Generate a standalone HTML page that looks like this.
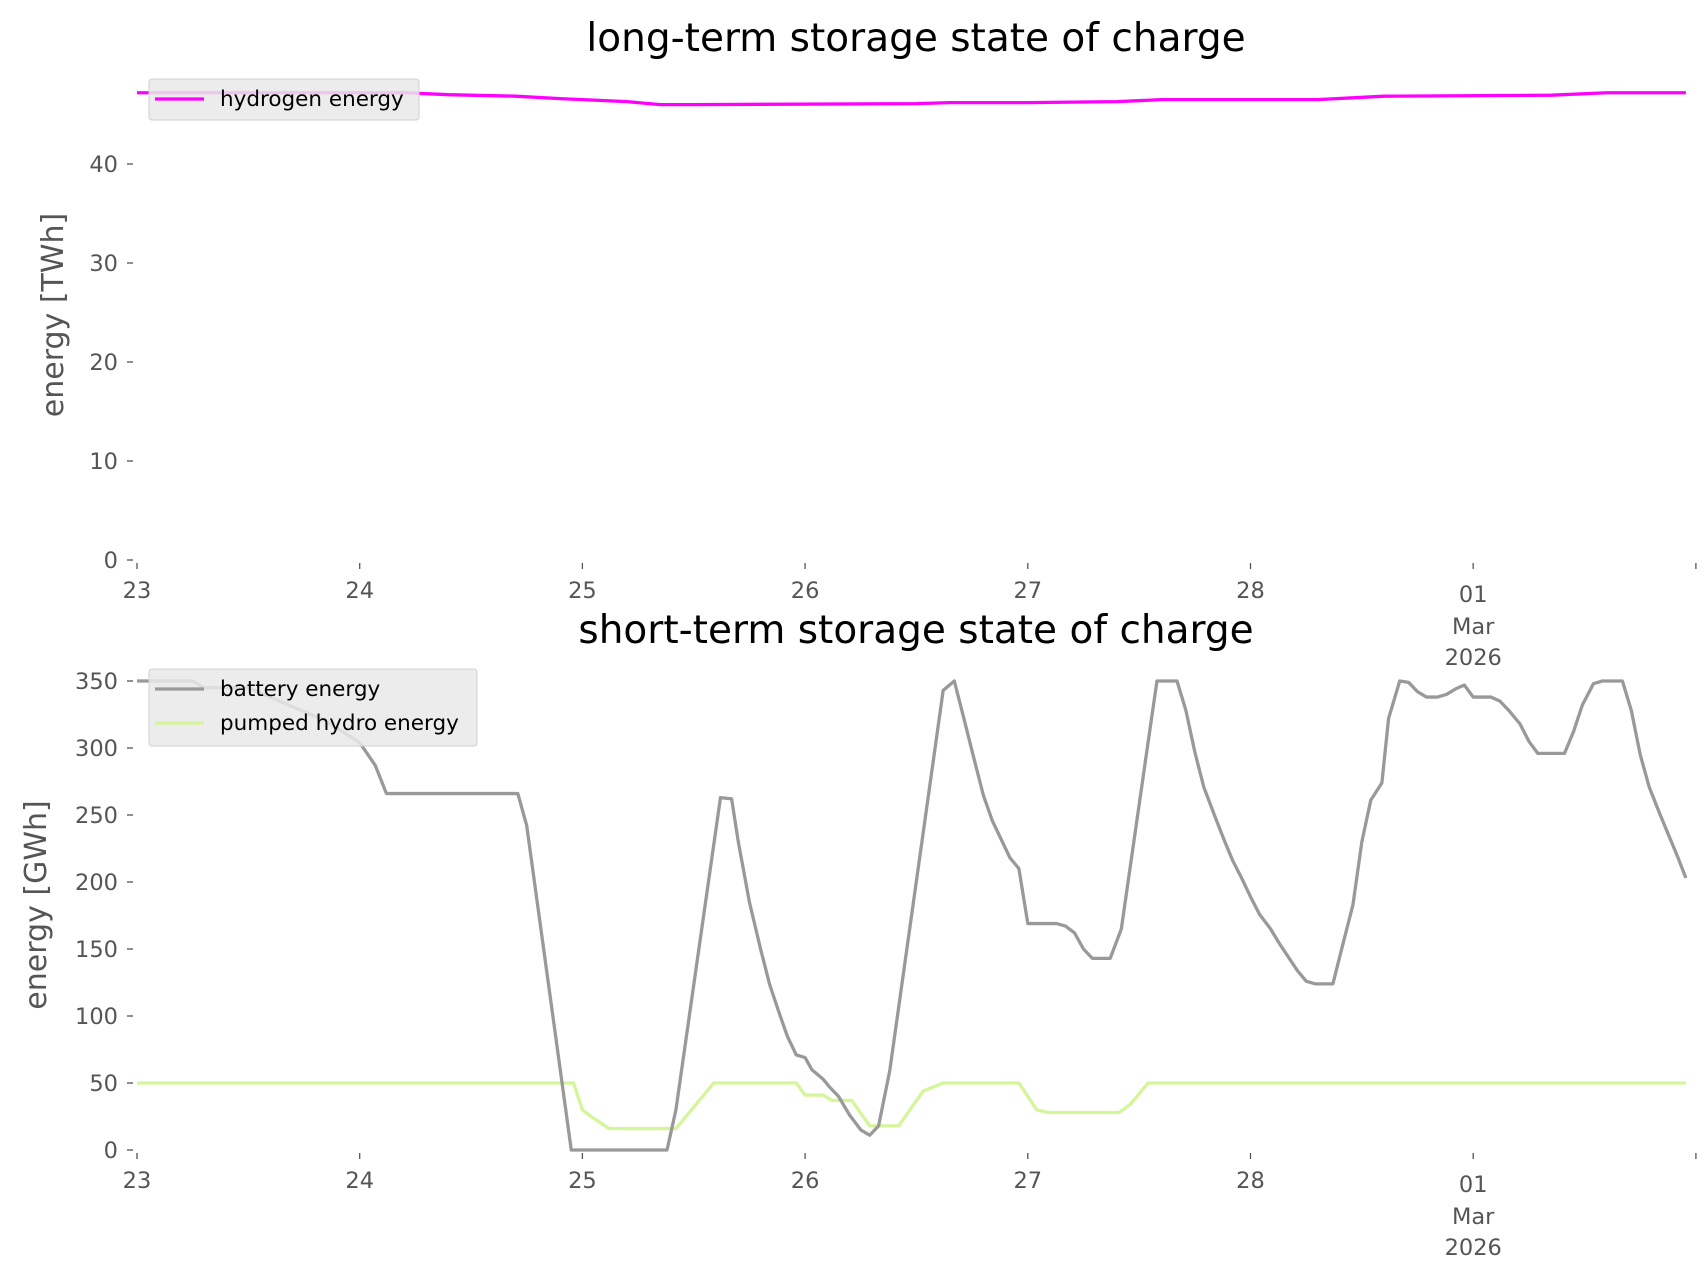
<!DOCTYPE html>
<html><head><meta charset="utf-8"><style>
body{margin:0;background:#fff;}
svg{display:block;font-family:"DejaVu Sans","Liberation Sans",sans-serif;}
</style></head><body>
<svg id="chart" width="1706" height="1277" viewBox="0 0 1706 1277"></svg>
<script>
const dayLabels = ["23","24","25","26","27","28","01"];
const h2T = [0,1.2,1.4,1.7,1.9,2.0,2.2,2.35,2.5,3.5,3.65,4.0,4.4,4.6,5.3,5.6,6.35,6.6,6.955];
const h2V = [47.2,47.2,47.0,46.85,46.6,46.5,46.3,46.0,46.0,46.1,46.2,46.2,46.3,46.5,46.5,46.85,46.95,47.2,47.2];
const batT = [0,0.25,0.3,0.5,0.85,1.0,1.07,1.12,1.71,1.75,1.95,2.38,2.42,2.62,2.67,2.70,2.75,2.80,2.84,2.88,2.92,2.96,3.0,3.03,3.08,3.11,3.15,3.2,3.25,3.29,3.33,3.38,3.62,3.67,3.71,3.76,3.80,3.84,3.88,3.92,3.96,4.0,4.13,4.17,4.21,4.25,4.29,4.37,4.42,4.54,4.58,4.67,4.71,4.75,4.79,4.84,4.88,4.92,4.96,5.0,5.04,5.09,5.13,5.17,5.21,5.25,5.29,5.37,5.42,5.46,5.50,5.54,5.59,5.62,5.67,5.71,5.75,5.79,5.84,5.88,5.92,5.96,6.0,6.08,6.12,6.16,6.21,6.25,6.29,6.41,6.45,6.49,6.54,6.58,6.67,6.71,6.75,6.79,6.84,6.88,6.92,6.955];
const batV = [350,350,345,345,320,304,287,266,266,242,0,0,30,263,262,230,185,150,124,104,85,71,69,60,53,47,40,26,15,11,18,59,343,350,324,291,265,246,232,218,210,169,169,167,162,150,143,143,165,304,350,350,328,297,271,249,232,216,203,189,176,165,154,144,134,126,124,124,157,183,230,261,274,322,350,349,342,338,338,340,344,347,338,338,335,328,318,305,296,296,312,332,348,350,350,328,295,271,250,234,218,203];
const phT = [0,1.96,2.0,2.03,2.12,2.42,2.59,2.96,3.0,3.08,3.12,3.21,3.29,3.42,3.53,3.62,3.96,4.04,4.09,4.41,4.46,4.54,6.955];
const phV = [50,50,30,26,16,16,50,50,41,41,37,37,18,18,44,50,50,30,28,28,34,50,50];
const hTicks=[0,10,20,30,40];
const sTicks=[0,50,100,150,200,250,300,350];

const NS="http://www.w3.org/2000/svg";
const svg=document.getElementById('chart');
const X0=137, DAY=222.7;
const xs=t=>X0+t*DAY;
const yTop=v=>560-v*9.9;
const yBot=v=>1150-v*1.34;
const TF=22.5;
function el(tag,attrs,parent){const e=document.createElementNS(NS,tag);for(const k in attrs)e.setAttribute(k,attrs[k]);(parent||svg).appendChild(e);return e;}
function txt(s,attrs){const e=el('text',attrs);e.textContent=s;return e;}
function line(T,V,ys,color,name){
  const p=el('polyline',{points:T.map((t,i)=>xs(t)+','+ys(V[i])).join(' '),fill:'none',stroke:color,'stroke-width':3.3,'stroke-linejoin':'round'});
  
  
}
function axes(ys,ticks,base,prefix){
  ticks.forEach(v=>{
    el('line',{x1:127,x2:133,y1:ys(v),y2:ys(v),stroke:'#555','stroke-width':1.3});
    const t=txt(String(v),{x:118,y:ys(v)+8,'text-anchor':'end','font-size':TF,fill:'#555'});
    
    
  });
  for(let i=0;i<=7;i++){
    el('line',{x1:xs(i),x2:xs(i),y1:base+3,y2:base+9,stroke:'#555','stroke-width':1.3});
  }
  dayLabels.forEach((d,i)=>{
    const dy = i===6?4:0;
    const t=txt(d,{x:xs(i),y:base+38+dy,'text-anchor':'middle','font-size':TF,fill:'#555'});
    
    
  });
  txt('Mar',{x:xs(6),y:base+74,'text-anchor':'middle','font-size':TF,fill:'#555'});
  txt('2026',{x:xs(6),y:base+105,'text-anchor':'middle','font-size':TF,fill:'#555'});
}
axes(yTop,hTicks,560,'top');
line(h2T,h2V,yTop,'#ff00ff','hydrogen-line');
axes(yBot,sTicks,1150,'bottom');
line(phT,phV,yBot,'#d5f59b','pumped-hydro-line');
line(batT,batV,yBot,'#999999','battery-line');

let t=txt('long-term storage state of charge',{x:916,y:51,'text-anchor':'middle','font-size':39,fill:'#000'});

t=txt('short-term storage state of charge',{x:916,y:643,'text-anchor':'middle','font-size':39,fill:'#000'});

t=txt('energy [TWh]',{x:0,y:0,transform:'translate(63,315) rotate(-90)','text-anchor':'middle','font-size':30,fill:'#555'});

t=txt('energy [GWh]',{x:0,y:0,transform:'translate(46,905) rotate(-90)','text-anchor':'middle','font-size':30,fill:'#555'});


let g=el('g',{});

el('rect',{x:149,y:79,width:270,height:41,rx:3,fill:'rgba(233,233,233,0.85)',stroke:'#d0d0d0'},g);
el('line',{x1:155,x2:204,y1:99,y2:99,stroke:'#ff00ff','stroke-width':3.3},g);
let lt=el('text',{x:220,y:106,'font-size':21.5,fill:'#000'},g);lt.textContent='hydrogen energy';

g=el('g',{});

el('rect',{x:149,y:669,width:328,height:77,rx:3,fill:'rgba(233,233,233,0.85)',stroke:'#d0d0d0'},g);
el('line',{x1:155,x2:204,y1:689,y2:689,stroke:'#999','stroke-width':3.3},g);
lt=el('text',{x:220,y:696,'font-size':21.5,fill:'#000'},g);lt.textContent='battery energy';
el('line',{x1:155,x2:204,y1:723,y2:723,stroke:'#d5f59b','stroke-width':3.3},g);
lt=el('text',{x:220,y:730,'font-size':21.5,fill:'#000'},g);lt.textContent='pumped hydro energy';
</script>
</body></html>
